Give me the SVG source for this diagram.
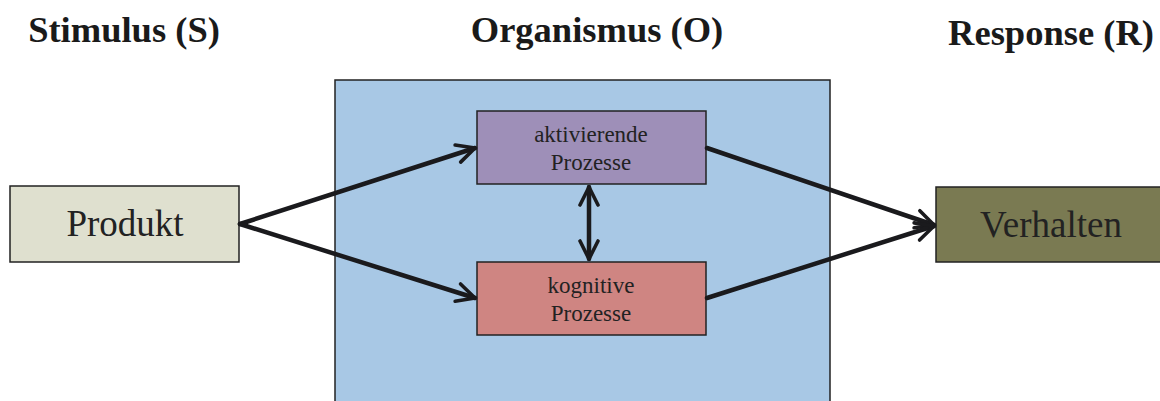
<svg xmlns="http://www.w3.org/2000/svg" width="1160" height="401" viewBox="0 0 1160 401">
<style>
.title{font-family:"Liberation Serif",serif;font-weight:bold;font-size:36.5px;fill:#1a1a1a;text-anchor:middle}
.big{font-family:"Liberation Serif",serif;font-size:37px;fill:#222;text-anchor:middle}
.small{font-family:"Liberation Serif",serif;font-size:23px;fill:#222;text-anchor:middle}
.box{stroke:#222;stroke-width:1.5}
.conn{stroke:#1a1a1d;stroke-width:4.5;fill:none;stroke-linecap:round}
</style>
<defs>
<marker id="ah" viewBox="0 0 10 10" refX="9" refY="5" markerWidth="5" markerHeight="5" orient="auto-start-reverse" markerUnits="strokeWidth">
<path d="M1,1 L9,5 L1,9" fill="none" stroke="#1a1a1d" stroke-width="1.6" stroke-linecap="round" stroke-linejoin="round"/>
</marker>
</defs>
<rect width="1160" height="401" fill="#fff"/>
<g id="titles">
<text class="title" x="124" y="42">Stimulus (S)</text>
<text class="title" x="597" y="42">Organismus (O)</text>
<text class="title" x="1051" y="45">Response (R)</text>
</g>
<g id="organismus"><rect class="box" x="335" y="80" width="495" height="330" fill="#a8c8e5"/></g>
<g id="produkt"><rect class="box" x="10" y="186" width="229" height="76" fill="#dfe0cf"/><text class="big" x="125" y="236">Produkt</text></g>
<g id="verhalten"><rect class="box" x="936" y="187" width="230" height="75" fill="#7a7a52"/><text class="big" x="1051" y="237">Verhalten</text></g>
<g id="aktivierende"><rect class="box" x="477" y="111" width="229" height="73" fill="#9e8fb8"/><text class="small" x="591" y="142">aktivierende</text><text class="small" x="591" y="170">Prozesse</text></g>
<g id="kognitive"><rect class="box" x="477" y="262" width="229" height="73" fill="#cf8582"/><text class="small" x="591" y="293">kognitive</text><text class="small" x="591" y="321">Prozesse</text></g>
<g id="connectors">
<line class="conn" x1="240" y1="224" x2="475" y2="148" marker-end="url(#ah)"/>
<line class="conn" x1="240" y1="224" x2="475" y2="298" marker-end="url(#ah)"/>
<line class="conn" x1="707" y1="148" x2="934" y2="225" marker-end="url(#ah)"/>
<line class="conn" x1="707" y1="298" x2="934" y2="226" marker-end="url(#ah)"/>
<line class="conn" x1="589" y1="187" x2="589" y2="259" marker-start="url(#ah)" marker-end="url(#ah)"/>
</g>
</svg>
